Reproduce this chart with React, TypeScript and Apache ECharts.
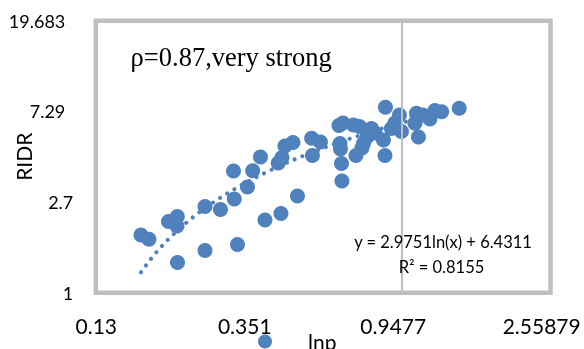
import React, { useEffect, useRef } from 'react';
import * as echarts from 'echarts';

// Axis ticks (log base 2.7)
const X_TICKS = [0.13, 0.351, 0.9477, 2.55879];
const X_TICK_LABELS = ['0.13', '0.351', '0.9477', '2.55879'];
const Y_TICKS = [1, 2.7, 7.29, 19.683];
const Y_TICK_LABELS = ['1', '2.7', '7.29', '19.683'];

// Scatter data: lnp (x) vs RIDR (y)
const LNP = [0.1753, 0.1849, 0.2107, 0.2235, 0.2230, 0.2238, 0.2690, 0.2690, 0.2983, 0.3272, 0.3343, 0.3255, 0.3574, 0.3701, 0.3899, 0.4018, 0.4392, 0.4502, 0.4472, 0.4593, 0.4845, 0.4993, 0.5491, 0.5520, 0.5824, 0.6591, 0.6770, 0.6636, 0.6658, 0.6703, 0.6725, 0.7263, 0.7560, 0.7385, 0.7765, 0.7949, 0.8192, 0.7687, 0.8386, 0.8876, 0.8966, 0.8996, 0.9364, 0.9586, 0.9879, 1.0012, 1.1068, 1.0958, 1.1218, 1.1560, 1.2115, 1.2526, 1.3100, 1.4737];
const RIDR = [1.882, 1.796, 2.183, 2.306, 2.078, 1.392, 2.573, 1.588, 2.490, 2.793, 1.696, 3.797, 3.186, 3.810, 4.427, 2.219, 4.145, 4.403, 2.383, 4.994, 5.190, 2.887, 5.434, 4.500, 5.218, 6.253, 6.426, 5.133, 4.833, 4.122, 3.403, 6.287, 6.184, 4.500, 5.133, 5.512, 6.050, 4.887, 5.759, 5.334, 4.500, 7.633, 6.050, 6.426, 7.015, 5.855, 7.147, 6.405, 5.512, 7.015, 6.715, 7.371, 7.274, 7.550];

// Printed trendline: y = A ln(x) + B
const TREND_A = 2.9751;
const TREND_B = 6.4311;
const R2 = 0.8155;
const RHO_TEXT = 'ρ=0.87,very strong';
const SERIES_NAME = 'lnp';
const Y_NAME = 'RIDR';

const BLUE = '#4F81BD';
const GRAYLINE = '#BFBFBF';

function nearestLabel(v: number, ticks: number[], labels: string[]) {
  let best = 0;
  let bd = Infinity;
  ticks.forEach((t, i) => {
    const d = Math.abs(Math.log(v) - Math.log(t));
    if (d < bd) { bd = d; best = i; }
  });
  return labels[best];
}

export default function App() {
  const ref = useRef<HTMLDivElement>(null);
  useEffect(() => {
    const chart = echarts.init(ref.current!, null, { renderer: 'svg' });
    const pts = LNP.map((x, i) => [x, RIDR[i]]);
    const xmin = Math.min(...LNP);
    const xmax = Math.max(...LNP);
    const trend: number[][] = [];
    const N = 80;
    for (let i = 0; i <= N; i++) {
      const x = xmin * Math.pow(xmax / xmin, i / N);
      trend.push([x, TREND_A * Math.log(x) + TREND_B]);
    }
    const option: any = {
      animation: false,
      grid: {
        left: 96.3, right: 42.3, top: 20.8, bottom: 56.3, show: false,
        containLabel: false, outerBoundsMode: 'none',
      },
      graphic: [
        {
          type: 'rect', z: -10, silent: true,
          shape: { x: 95.8, y: 20.8, width: 454.7, height: 271.9 },
          style: { fill: 'none', stroke: GRAYLINE, lineWidth: 4.5 },
        },
        {
          type: 'text', left: 130.6, top: 43, silent: true,
          style: { text: RHO_TEXT, font: '26.5px "Liberation Serif"', fill: '#000' },
        },
        {
          type: 'text', x: 443, y: 241.7, silent: true, z: 20,
          style: {
            text: `y = ${TREND_A}ln(x) + ${TREND_B}`,
            font: '16.5px Lato', fill: '#000', align: 'center', verticalAlign: 'middle',
          },
        },
        {
          type: 'text', x: 441.5, y: 266.7, silent: true, z: 20,
          style: {
            text: `R² = ${R2}`,
            font: '16.5px Lato', fill: '#000', align: 'center', verticalAlign: 'middle',
          },
        },
      ],
      legend: {
        data: [{ name: SERIES_NAME, icon: 'circle' }],
        left: 258, top: 331, itemWidth: 14, itemHeight: 14, padding: 0,
        formatter: (n: string) => `{a|${n}}`,
        textStyle: {
          fontFamily: 'Lato', fontSize: 21, color: '#000',
          rich: { a: { fontFamily: 'Lato', fontSize: 21, color: '#000', padding: [0, 0, 0, 31] } },
        },
      },
      xAxis: {
        type: 'log', logBase: 2.7, min: X_TICKS[0], max: X_TICKS[X_TICKS.length - 1],
        axisLine: { show: false }, axisTick: { show: false }, splitLine: { show: false },
        axisLabel: {
          customValues: X_TICKS,
          margin: 22, fontFamily: 'Lato', fontSize: 21, color: '#000',
          formatter: (v: number) => nearestLabel(v, X_TICKS, X_TICK_LABELS),
        },
      },
      yAxis: {
        type: 'log', logBase: 2.7, min: Y_TICKS[0], max: Y_TICKS[Y_TICKS.length - 1], splitNumber: 3,
        axisLine: { show: false }, axisTick: { show: false }, splitLine: { show: false },
        name: Y_NAME, nameLocation: 'middle', nameGap: 62, nameRotate: 90, nameMoveOverlap: false,
        nameTextStyle: { fontFamily: 'Lato', fontSize: 21, color: '#000' },
        axisLabel: {
          margin: 23, fontFamily: 'Lato', fontSize: 18, color: '#000',
          formatter: (v: number) => {
            const s = nearestLabel(v, Y_TICKS, Y_TICK_LABELS);
            return s.length > 3 ? `{p|${s}}` : `{n|${s}}`;
          },
          rich: {
            p: { fontFamily: 'Lato', fontSize: 18, color: '#000', padding: [0, 8, 0, 0] },
            n: { fontFamily: 'Lato', fontSize: 18, color: '#000' },
          },
        },
      },
      series: [
        {
          name: 'trend', type: 'line', data: trend, showSymbol: false, symbol: 'none', z: 1,
          silent: true, smooth: false,
          lineStyle: { color: BLUE, width: 4, type: [0.1, 8.3], cap: 'round' },
          markLine: {
            silent: true, symbol: 'none', label: { show: false },
            lineStyle: { color: GRAYLINE, width: 2, type: 'solid' },
            data: [{ xAxis: 1 }],
          },
        },
        {
          name: SERIES_NAME, type: 'scatter', data: pts, symbol: 'circle', symbolSize: 15, z: 3,
          itemStyle: { color: BLUE, opacity: 1 },
        },
      ],
    };
    chart.setOption(option);
    return () => chart.dispose();
  }, []);
  return <div ref={ref} style={{ position: 'fixed', left: 0, top: 0, width: 584, height: 349 }} />;
}
